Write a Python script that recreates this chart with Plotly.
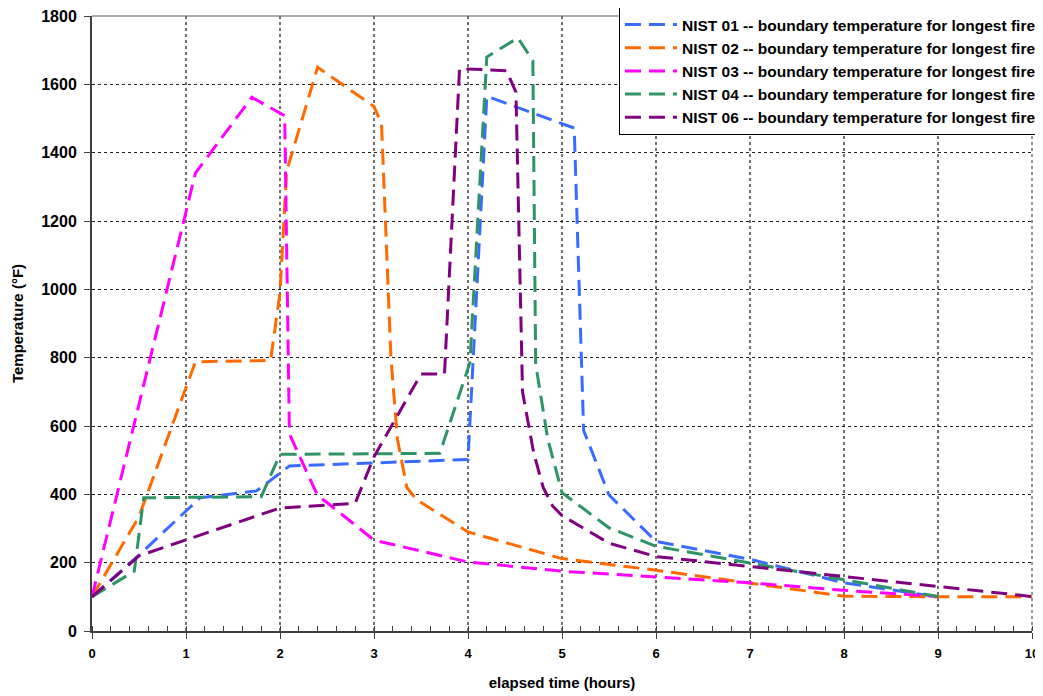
import plotly.graph_objects as go

names = [
    "NIST 01 -- boundary temperature for longest fire",
    "NIST 02 -- boundary temperature for longest fire",
    "NIST 03 -- boundary temperature for longest fire",
    "NIST 04 -- boundary temperature for longest fire",
    "NIST 06 -- boundary temperature for longest fire",
]
colors = ["#3A6BFF", "#FF6A00", "#FF00FF", "#2E9466", "#800080"]

nist01_x = [0, 0.5, 1.15, 1.75, 2.1, 4.0, 4.2, 5.13, 5.23, 5.5, 6.0, 7.0, 8.0, 8.8, 9.0]
nist01_y = [100, 222, 390, 410, 483, 502, 1565, 1472, 587, 398, 262, 210, 141, 107, 100]

nist02_x = [0, 0.5, 1.1, 1.9, 2.0, 2.07, 2.4, 3.0, 3.08, 3.18, 3.25, 3.35, 3.45, 4.0, 5.0, 6.0, 7.0, 8.0, 9.0, 10.0]
nist02_y = [100, 335, 788, 792, 990, 1345, 1650, 1535, 1485, 800, 560, 420, 385, 290, 212, 178, 140, 102, 100, 100]

nist03_x = [0, 1.1, 1.7, 2.05, 2.1, 2.4, 2.5, 3.0, 4.0, 5.0, 6.0, 7.0, 8.0, 9.0]
nist03_y = [100, 1340, 1562, 1508, 577, 396, 376, 266, 202, 175, 158, 141, 119, 101]

nist04_x = [0, 0.45, 0.55, 1.8, 2.0, 3.7, 4.02, 4.2, 4.53, 4.69, 4.72, 4.85, 5.0, 5.5, 6.0, 7.0, 8.0, 9.0]
nist04_y = [100, 175, 390, 393, 517, 520, 785, 1680, 1736, 1669, 781, 560, 405, 302, 248, 199, 150, 101]

nist06_x = [0, 0.5, 2.0, 2.8, 3.0, 3.5, 3.75, 3.91, 4.41, 4.51, 4.58, 4.7, 4.8, 4.9, 5.0, 5.5, 6.0, 7.0, 8.0, 9.0, 10.0]
nist06_y = [100, 220, 360, 374, 510, 752, 752, 1646, 1640, 1577, 700, 520, 420, 366, 338, 257, 218, 189, 160, 129, 101]

series_x = [nist01_x, nist02_x, nist03_x, nist04_x, nist06_x]
series_y = [nist01_y, nist02_y, nist03_y, nist04_y, nist06_y]

x_ticks = list(range(0, 11))
y_ticks = list(range(0, 1801, 200))

font_family = "Arial, Liberation Sans, sans-serif"

fig = go.Figure()
for name, color, xs, ys in zip(names, colors, series_x, series_y):
    fig.add_trace(go.Scatter(
        x=xs, y=ys, mode="lines", name=name,
        line=dict(color=color, width=3, dash="16px,8px"),
    ))

# frame lines at the top and right edges of the plot area
fig.add_shape(type="line", xref="paper", yref="paper", x0=0, x1=1, y0=1, y1=1,
              line=dict(color="#909090", width=1.5), layer="below")
fig.add_shape(type="line", xref="paper", yref="paper", x0=1, x1=1, y0=0, y1=1,
              line=dict(color="#707070", width=1.5, dash="dot"), layer="below")

# page body has an 8px margin: size the figure so the plot lands where the reference has it
fig.update_layout(
    width=1035, height=688,
    margin=dict(l=84, r=11, t=8, b=65, autoexpand=False),
    paper_bgcolor="white", plot_bgcolor="white",
    font=dict(family=font_family, color="black"),
    showlegend=True,
    legend=dict(
        x=1.0106, xanchor="right", y=1.0146, yanchor="top",
        bgcolor="white", bordercolor="black", borderwidth=1,
        font=dict(family=font_family, size=15.5, weight="bold", color="black"),
        itemwidth=52, tracegroupgap=0,
    ),
    xaxis=dict(
        range=[0, 10], tickvals=x_ticks, ticktext=[str(v) for v in x_ticks],
        showgrid=True, gridcolor="#707070", griddash="dot", gridwidth=1.5,
        showline=True, linecolor="#404040", linewidth=2,
        ticks="outside", ticklen=6, tickcolor="#404040", tickwidth=1,
        ticklabelstandoff=3, ticklabeloverflow="allow",
        minor=dict(dtick=0.2, ticks="inside", ticklen=5, tickcolor="#404040", showgrid=False),
        tickfont=dict(family=font_family, size=13, weight="bold"),
        title=dict(text="elapsed time (hours)", font=dict(family=font_family, size=15, weight="bold"), standoff=18),
        zeroline=False,
    ),
    yaxis=dict(
        range=[0, 1800], tickvals=y_ticks, ticktext=[str(v) for v in y_ticks],
        showgrid=True, gridcolor="#202020", griddash="dot", gridwidth=1,
        showline=True, linecolor="#404040", linewidth=2,
        ticks="outside", ticklen=6, tickcolor="#404040", tickwidth=1,
        ticklabelstandoff=4, ticklabeloverflow="allow",
        tickfont=dict(family=font_family, size=16, weight="bold"),
        title=dict(text="Temperature (°F)", font=dict(family=font_family, size=15, weight="bold"), standoff=14),
        zeroline=False,
    ),
)

fig.write_html("out.html")
